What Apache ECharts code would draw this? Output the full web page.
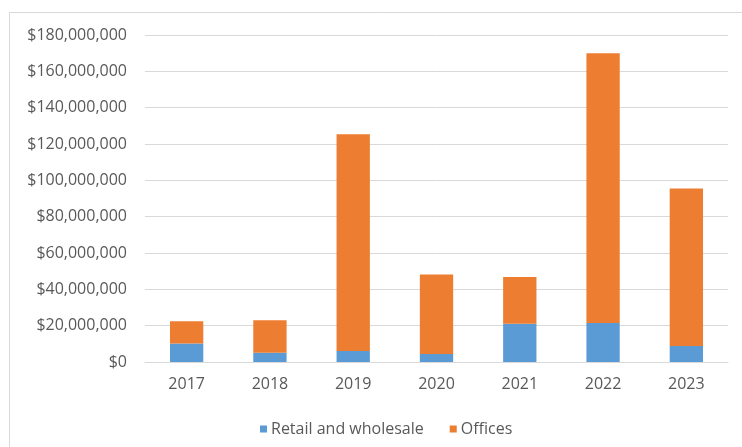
<!DOCTYPE html>
<html>
<head>
<meta charset="utf-8">
<script src="https://cdn.jsdelivr.net/npm/echarts@6/dist/echarts.min.js"></script>
<style>
  html, body { margin: 0; padding: 0; background: #ffffff; }
  #chart { width: 742px; height: 447px; }
</style>
</head>
<body>
<div id="chart"></div>
<script>
// Years on the category axis
const years = ['2017', '2018', '2019', '2020', '2021', '2022', '2023'];
// Investment volume by sector, in dollars (stacked)
const retailWholesale = [10200000, 5100000, 6000000, 4400000, 21000000, 21500000, 8800000];
const offices = [12300000, 17900000, 119400000, 43700000, 25800000, 148500000, 86700000];
// Value axis range
const yMin = 0;
const yMax = 180000000;
const yStep = 20000000;

const fmtDollar = v => '$' + Math.round(v).toLocaleString('en-US');

const chart = echarts.init(document.getElementById('chart'), null, { renderer: 'canvas' });
const font = '"Open Sans", Lato, sans-serif';

chart.setOption({
  animation: false,
  backgroundColor: '#ffffff',
  graphic: [{
    type: 'rect',
    shape: { x: 9.5, y: 12.5, width: 760, height: 460 },
    style: { fill: 'none', stroke: '#d9d9d9', lineWidth: 1 },
    silent: true
  }],
  grid: { left: 145, right: 14, top: 35, bottom: 85 },
  legend: {
    top: 416,
    left: 255,
    itemWidth: 7,
    itemHeight: 7,
    itemGap: 26,
    icon: 'rect',
    textStyle: { color: '#595959', fontSize: 16, fontFamily: font, padding: [0, 0, 0, -1] },
    data: ['Retail and wholesale', 'Offices']
  },
  xAxis: {
    type: 'category',
    data: years,
    axisLine: { lineStyle: { color: '#d9d9d9' } },
    axisTick: { show: false },
    axisLabel: { color: '#595959', fontSize: 16, fontFamily: font, margin: 14 }
  },
  yAxis: {
    type: 'value',
    min: yMin,
    max: yMax,
    interval: yStep,
    axisLine: { show: false },
    axisTick: { show: false },
    splitLine: { lineStyle: { color: '#d9d9d9' } },
    axisLabel: { color: '#595959', fontSize: 16, fontFamily: font, margin: 18, formatter: fmtDollar }
  },
  series: [
    {
      name: 'Retail and wholesale',
      type: 'bar',
      stack: 'total',
      barWidth: '40%',
      itemStyle: { color: '#5b9bd5' },
      data: retailWholesale
    },
    {
      name: 'Offices',
      type: 'bar',
      stack: 'total',
      barWidth: '40%',
      itemStyle: { color: '#ed7d31' },
      data: offices
    }
  ]
});
</script>
</body>
</html>
